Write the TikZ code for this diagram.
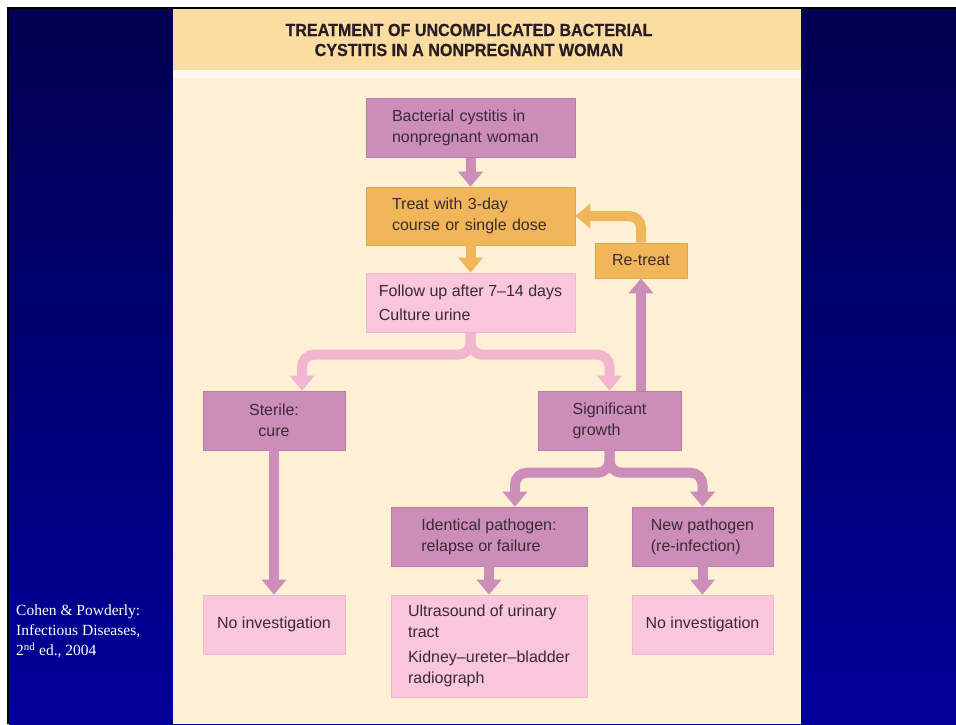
\documentclass[tikz,border=0pt]{standalone}
\usepackage{fontspec}
\setmainfont{Liberation Sans}
\newfontfamily\titlefont[FakeStretch=0.92,FakeBold=0.6]{Liberation Sans}
\newfontfamily\citefont{Liberation Serif}
\usepackage{xcolor}
\usetikzlibrary{arrows.meta,positioning,calc}
\definecolor{mauve}{HTML}{CD8DB9}
\definecolor{amber}{HTML}{F1B65A}
\definecolor{blush}{HTML}{F9C6DC}
\definecolor{blushline}{HTML}{F3B6D1}
\definecolor{cream}{HTML}{FEF0D5}
\definecolor{headband}{HTML}{FBDDA1}
\definecolor{ink}{HTML}{3B2A33}
\definecolor{navytop}{HTML}{00004F}
\definecolor{navybot}{HTML}{000099}

\begin{document}
\begin{tikzpicture}[x=1pt,y=-1pt,
  box/.style={minimum height=59pt,inner sep=0pt,align=left,text=ink,
    font=\fontsize{16}{21}\selectfont},
  mauvebox/.style={box,fill=mauve,draw=mauve!90!black,line width=0.6pt},
  amberbox/.style={box,fill=amber,draw=amber!92!black,line width=0.6pt},
  blushbox/.style={box,fill=blush,draw=blushline,line width=0.8pt},
  flow/.style={line width=10pt,rounded corners=12pt,-{Triangle[length=15pt,width=24pt]}}]
\useasboundingbox (0,0) rectangle (956,724);
% slide background
\fill[white] (0,0) rectangle (956,724);
\fill[black] (7,7) rectangle (956,724);
\shade[top color=navytop,bottom color=navybot] (9,9) rectangle (956,724);
% figure panel
\fill[cream] (173,9) rectangle (801,724);
\fill[white!60!cream] (173,70) rectangle (801,78);
\fill[headband] (173,9) rectangle (801,70);
\node[font=\titlefont\bfseries\fontsize{17.5}{20}\selectfont,text=ink!70!black,align=center] (title) at (469,40)
  {TREATMENT OF UNCOMPLICATED BACTERIAL\\CYSTITIS IN A NONPREGNANT WOMAN};
% citation
\node[anchor=north west,inner sep=0pt,text=white,align=left,font=\citefont\fontsize{15.5}{20}\selectfont] (cite) at (16,605)
  {Cohen \& Powderly:\\Infectious Diseases,\\2\textsuperscript{nd} ed., 2004};
% main column
\node[mauvebox,minimum width=209pt,text width=157pt,inner xsep=26pt] (start) at (470.5,128)
  {Bacterial cystitis in\\nonpregnant woman};
\node[amberbox,minimum width=209pt,minimum height=58pt,text width=157pt,inner xsep=26pt] (treat) at (470.5,216)
  {Treat with 3-day\\course or single dose};
\node[blushbox,minimum width=209pt] (follow) at (470.5,302.5)
  {Follow up after 7--14 days\\[3pt]Culture urine};
\node[amberbox,minimum width=92pt,minimum height=35pt] (retreat) at (641,260.5) {Re-treat};
% culture result
\node[mauvebox,minimum width=142pt,align=center] (sterile) at (274,420.5) {Sterile:\\cure};
\node[mauvebox,minimum width=143pt] (growth) at (609.5,420.5) {Significant\\growth};
\node[mauvebox,minimum width=196pt] (relapse) at (489,536.5) {Identical pathogen:\\relapse or failure};
\node[mauvebox,minimum width=141pt] (reinf) at (702.5,536.5) {New pathogen\\(re-infection)};
% investigations
\node[blushbox,minimum width=142pt] (noinvL) at (274,624.5) {No investigation};
\node[blushbox,minimum width=196pt,minimum height=102pt] (imaging) at (489,646)
  {Ultrasound of urinary\\tract\\[4pt]Kidney--ureter--bladder\\radiograph};
\node[blushbox,minimum width=141pt] (noinvR) at (702.5,624.5) {No investigation};
% connectors
\draw[flow,mauve] (start) -- (treat);
\draw[flow,amber] (treat) -- (follow);
\draw[flow,blushline] (follow.south) |- ([xshift=28pt,yshift=36pt]sterile.north) -- ([xshift=28pt]sterile.north);
\draw[flow,blushline] (follow.south) |- ([yshift=36pt]growth.north) -- (growth.north);
\draw[flow,mauve] (sterile) -- (noinvL);
\draw[flow,mauve] (retreat.south |- growth.north) -- (retreat.south);
\draw[flow,amber] (retreat.north) |- (treat.east);
\draw[flow,mauve] (growth.south) |- ([xshift=26pt,yshift=34pt]relapse.north) -- ([xshift=26pt]relapse.north);
\draw[flow,mauve] (growth.south) |- ([yshift=34pt]reinf.north) -- (reinf.north);
\draw[flow,mauve] (relapse) -- (imaging);
\draw[flow,mauve] (reinf) -- (noinvR);
\end{tikzpicture}
\end{document}
